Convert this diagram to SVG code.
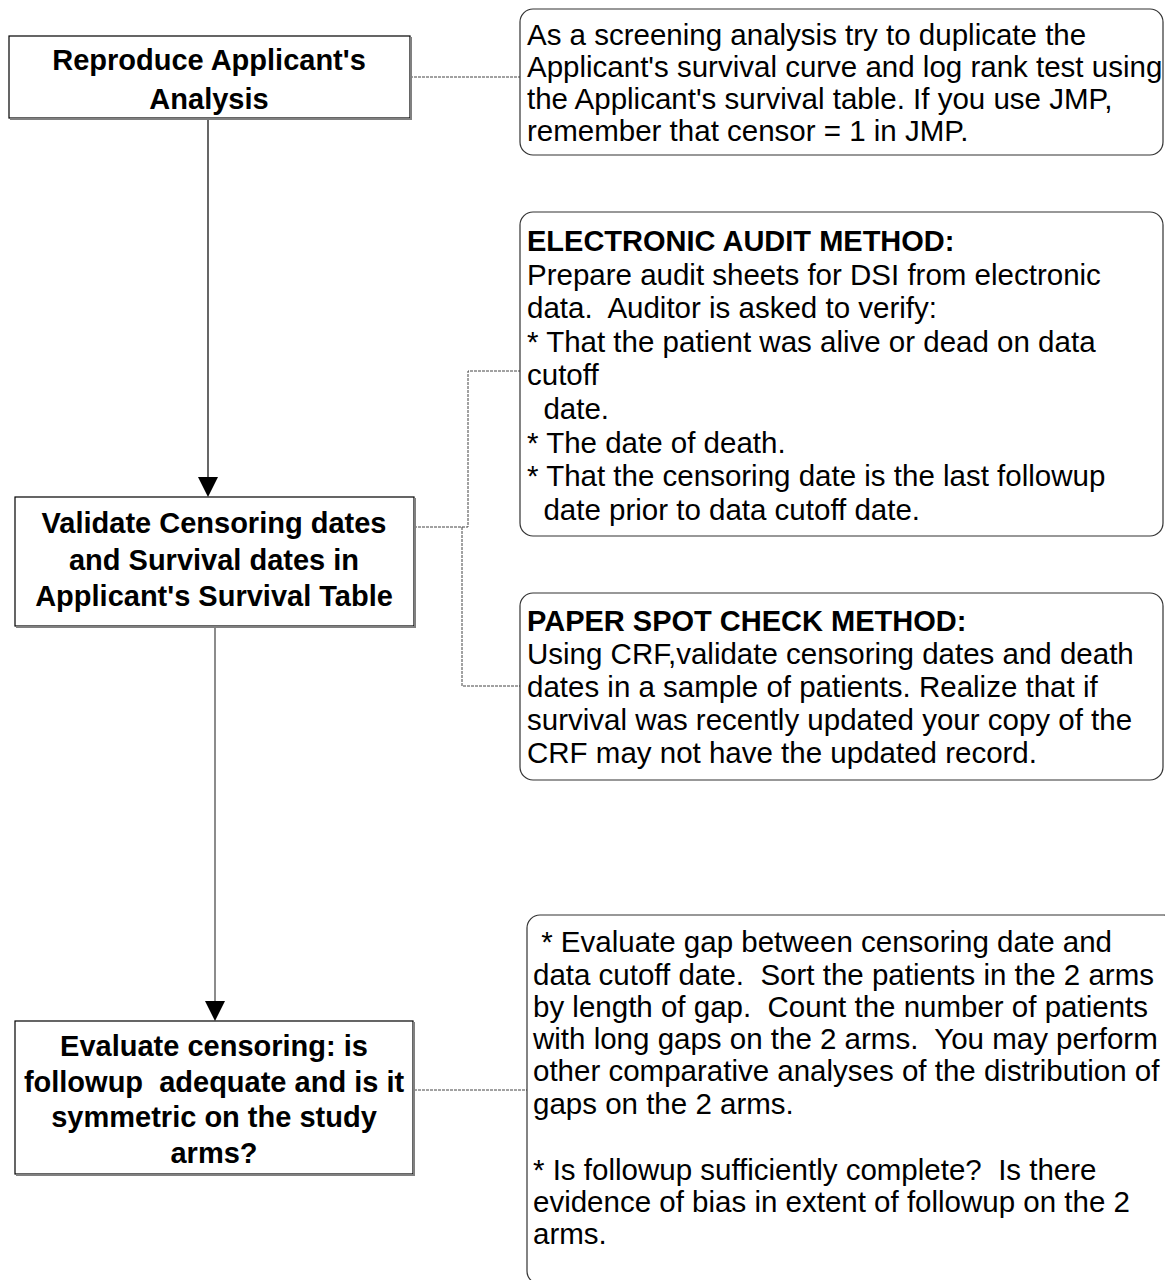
<svg xmlns="http://www.w3.org/2000/svg" width="1165" height="1280" viewBox="0 0 1165 1280">
  <style>
    .box { fill: #ffffff; stroke: #000000; stroke-width: 1.2; }
    .shade { fill: none; stroke: #808080; stroke-width: 2; }
    .note { fill: #ffffff; stroke: #333333; stroke-width: 1.2; }
    .title { font-family: "Liberation Sans", Arial, sans-serif; font-weight: bold; font-size: 29px; fill: #000000; text-anchor: middle; }
    .body { font-family: "Liberation Sans", Arial, sans-serif; font-size: 29.5px; fill: #000000; white-space: pre; }
    .head { font-family: "Liberation Sans", Arial, sans-serif; font-weight: bold; font-size: 29px; fill: #000000; }
    .flow { stroke: #000000; stroke-width: 1.2; fill: none; }
    .flow2 { stroke: #666666; stroke-width: 1.5; fill: none; }
    .link { stroke: #444444; stroke-width: 1; stroke-dasharray: 3 1; fill: none; }
    .tip { fill: #000000; }
  </style>

  <!-- connectors -->
  <g id="connectors">
    <line class="flow" x1="208" y1="118" x2="208" y2="479"/>
    <polygon class="tip" points="198,477 218,477 208,497"/>
    <line class="flow2" x1="215" y1="627" x2="215" y2="1003"/>
    <polygon class="tip" points="205,1001 225,1001 215,1021"/>
    <line class="link" x1="410" y1="77" x2="520" y2="77"/>
    <polyline class="link" points="414,527 468,527 468,371 520,371"/>
    <polyline class="link" points="462,527 462,686 520,686"/>
    <line class="link" x1="414" y1="1090" x2="527" y2="1090"/>
  </g>

  <!-- step 1 -->
  <g id="reproduce">
    <rect class="box" x="9" y="36" width="401" height="82"/>
    <polyline class="shade" points="411,37 411,119 10,119"/>
    <text class="title" x="209" y="70">Reproduce Applicant's</text>
    <text class="title" x="209" y="109">Analysis</text>
  </g>

  <!-- step 2 -->
  <g id="validate">
    <rect class="box" x="15" y="497" width="399" height="129"/>
    <polyline class="shade" points="415,498 415,627 16,627"/>
    <text class="title" x="214" y="533">Validate Censoring dates</text>
    <text class="title" x="214" y="570">and Survival dates in</text>
    <text class="title" x="214" y="606">Applicant's Survival Table</text>
  </g>

  <!-- step 3 -->
  <g id="evaluate">
    <rect class="box" x="15" y="1021" width="398" height="153"/>
    <polyline class="shade" points="414,1022 414,1175 16,1175"/>
    <text class="title" x="214" y="1056">Evaluate censoring: is</text>
    <text class="title" x="214" y="1092" xml:space="preserve">followup  adequate and is it</text>
    <text class="title" x="214" y="1127">symmetric on the study</text>
    <text class="title" x="214" y="1163">arms?</text>
  </g>

  <!-- note: screening analysis -->
  <g id="note-screening">
    <rect class="note" x="520" y="9" width="643" height="146" rx="13" ry="13"/>
    <text class="body" x="527" y="45">As a screening analysis try to duplicate the</text>
    <text class="body" x="527" y="77">Applicant's survival curve and log rank test using</text>
    <text class="body" x="527" y="109">the Applicant's survival table. If you use JMP,</text>
    <text class="body" x="527" y="141">remember that censor = 1 in JMP.</text>
  </g>

  <!-- note: electronic audit -->
  <g id="note-electronic">
    <rect class="note" x="520" y="212" width="643" height="324" rx="13" ry="13"/>
    <text class="head" x="527" y="251">ELECTRONIC AUDIT METHOD:</text>
    <text class="body" x="527" y="285">Prepare audit sheets for DSI from electronic</text>
    <text class="body" x="527" y="318" xml:space="preserve">data.  Auditor is asked to verify:</text>
    <text class="body" x="527" y="352">* That the patient was alive or dead on data</text>
    <text class="body" x="527" y="385">cutoff</text>
    <text class="body" x="527" y="419" xml:space="preserve">  date.</text>
    <text class="body" x="527" y="453">* The date of death.</text>
    <text class="body" x="527" y="486">* That the censoring date is the last followup</text>
    <text class="body" x="527" y="520" xml:space="preserve">  date prior to data cutoff date.</text>
  </g>

  <!-- note: paper spot check -->
  <g id="note-paper">
    <rect class="note" x="520" y="593" width="643" height="187" rx="13" ry="13"/>
    <text class="head" x="527" y="631">PAPER SPOT CHECK METHOD:</text>
    <text class="body" x="527" y="664">Using CRF,validate censoring dates and death</text>
    <text class="body" x="527" y="697">dates in a sample of patients. Realize that if</text>
    <text class="body" x="527" y="730">survival was recently updated your copy of the</text>
    <text class="body" x="527" y="763">CRF may not have the updated record.</text>
  </g>

  <!-- note: censoring gaps (runs past the lower and right page edges) -->
  <g id="note-gaps">
    <rect class="note" x="527" y="915" width="650" height="369" rx="13" ry="13"/>
    <text class="body" x="533" y="952" xml:space="preserve"> * Evaluate gap between censoring date and</text>
    <text class="body" x="533" y="985" xml:space="preserve">data cutoff date.  Sort the patients in the 2 arms</text>
    <text class="body" x="533" y="1017" xml:space="preserve">by length of gap.  Count the number of patients</text>
    <text class="body" x="533" y="1049" xml:space="preserve">with long gaps on the 2 arms.  You may perform</text>
    <text class="body" x="533" y="1081">other comparative analyses of the distribution of</text>
    <text class="body" x="533" y="1114">gaps on the 2 arms.</text>
    <text class="body" x="533" y="1180" xml:space="preserve">* Is followup sufficiently complete?  Is there</text>
    <text class="body" x="533" y="1212">evidence of bias in extent of followup on the 2</text>
    <text class="body" x="533" y="1244">arms.</text>
  </g>
</svg>
